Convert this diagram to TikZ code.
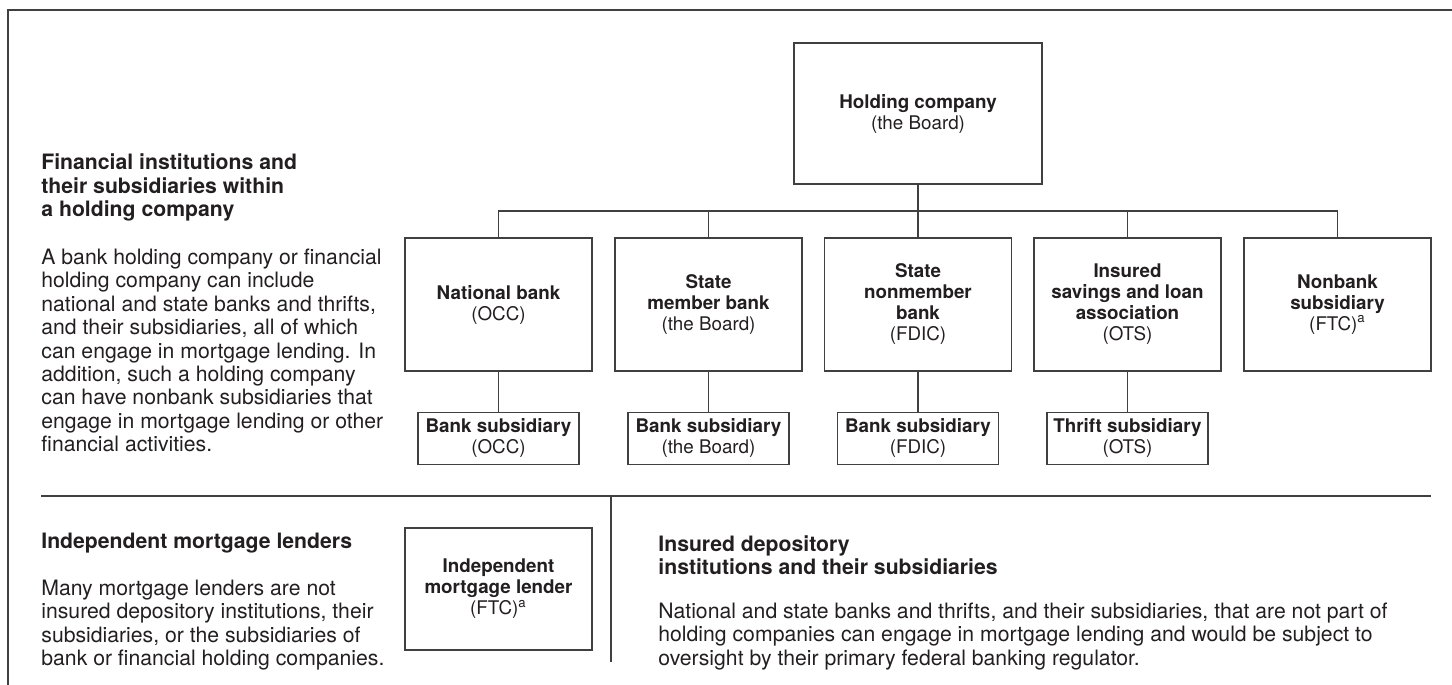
\documentclass[tikz,border=0pt]{standalone}
\usepackage{fontspec}
\setmainfont{TeX Gyre Heros}
\usepackage{tikz}
\usetikzlibrary{positioning}
\definecolor{inkgray}{RGB}{35, 31, 32}
\definecolor{rulegray}{RGB}{64, 64, 64}

\begin{document}
\begin{tikzpicture}[x=0.5pt, y=-0.5pt,
  orgbox/.style={draw=rulegray, line width=0.6pt, fill=white, align=center, inner sep=2pt,
    text=inkgray, font=\fontsize{9.4}{10.5}\selectfont, minimum width=93.5pt, minimum height=66.5pt},
  subbox/.style={orgbox, minimum width=80.5pt, minimum height=26pt},
  link/.style={draw=rulegray, line width=0.6pt},
  blurb/.style={anchor=west, align=left, inner sep=0pt, text=inkgray, font=\fontsize{10.6}{11.7}\selectfont},
  heading/.style={blurb, font=\fontsize{10.6}{11.7}\selectfont\bfseries}]
  \useasboundingbox (0,0) rectangle (1452,685);

  % Frame
  \draw[rulegray, line width=1.1pt] (8,685) -- (8,10) -- (1452,10);

  % Holding company and its institutions
  \node[orgbox, minimum width=124pt, minimum height=70.5pt] (hold) at (918,113.5) {\textbf{Holding company}\\(the Board)};
  \coordinate (bus) at (918,211);

  \node[orgbox] (natl) at (498.5,304.5) {\textbf{National bank}\\(OCC)};
  \node[orgbox] (smb) at (708.5,304.5) {\textbf{State}\\\textbf{member bank}\\(the Board)};
  \node[orgbox] (snmb) at (918,304.5) {\textbf{State}\\\textbf{nonmember}\\\textbf{bank}\\(FDIC)};
  \node[orgbox] (sla) at (1127.5,304.5) {\textbf{Insured}\\\textbf{savings and loan}\\\textbf{association}\\(OTS)};
  \node[orgbox] (nonbank) at (1337.5,304.5) {\textbf{Nonbank}\\\textbf{subsidiary}\\(FTC)\textsuperscript{a}};

  % Subsidiaries
  \node[subbox, below=20pt of natl] (natl-sub) {\textbf{Bank subsidiary}\\(OCC)};
  \node[subbox, below=20pt of smb] (smb-sub) {\textbf{Bank subsidiary}\\(the Board)};
  \node[subbox, below=20pt of snmb] (snmb-sub) {\textbf{Bank subsidiary}\\(FDIC)};
  \node[subbox, below=20pt of sla] (sla-sub) {\textbf{Thrift subsidiary}\\(OTS)};

  \draw[link] (hold.south) -- (bus);
  \foreach \c in {natl,smb,snmb,sla,nonbank}
    \draw[link] (bus) -| (\c.north);
  \foreach \c in {natl,smb,snmb,sla}
    \draw[link] (\c.south) -- (\c-sub.north);

  % Left side text
  \node[heading] (fi-head) at (41,187.5) {Financial institutions and\\their subsidiaries within\\a holding company};
  \node[blurb] (fi-body) at (41,350.5) {A bank holding company or financial\\holding company can include\\national and state banks and thrifts,\\and their subsidiaries, all of which\\can engage in mortgage lending. In\\addition, such a holding company\\can have nonbank subsidiaries that\\engage in mortgage lending or other\\financial activities.};

  % Dividers
  \draw[link] (41,496) -- (1431,496);
  \draw[link] (611,496) -- (611,662);

  % Independent lenders
  \node[heading] (im-head) at (41,543) {Independent mortgage lenders};
  \node[blurb] (im-body) at (41,625) {Many mortgage lenders are not\\insured depository institutions, their\\subsidiaries, or the subsidiaries of\\bank or financial holding companies.};
  \node[orgbox, minimum height=61pt] (indep) at (498.5,589) {\textbf{Independent}\\\textbf{mortgage lender}\\(FTC)\textsuperscript{a}};

  % Insured depository institutions
  \node[heading] (id-head) at (658,555) {Insured depository\\institutions and their subsidiaries};
  \node[blurb] (id-body) at (658,636.5) {National and state banks and thrifts, and their subsidiaries, that are not part of\\holding companies can engage in mortgage lending and would be subject to\\oversight by their primary federal banking regulator.};
\end{tikzpicture}
\end{document}
